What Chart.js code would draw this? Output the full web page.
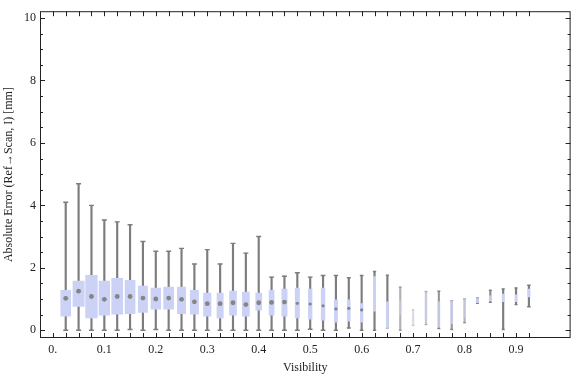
<!DOCTYPE html>
<html>
<head>
<meta charset="utf-8">
<script src="https://cdn.jsdelivr.net/npm/chart.js@4.4.1/dist/chart.umd.min.js"></script>
<style>
  body { margin: 0; background: #fff; }
  #chart { display: block; }
</style>
</head>
<body>
<canvas id="chart" width="576" height="377"></canvas>
<script>
  // box positions (visibility bins)
  const visibility = [0.025, 0.05, 0.075, 0.1, 0.125, 0.15, 0.175, 0.2, 0.225, 0.25, 0.275, 0.3, 0.325,
    0.35, 0.375, 0.4, 0.425, 0.45, 0.475, 0.5, 0.525, 0.55, 0.575, 0.6, 0.625, 0.65, 0.675, 0.7,
    0.725, 0.75, 0.775, 0.8, 0.825, 0.85, 0.875, 0.9, 0.925];

  const whiskerLow = [0, 0, 0, 0, 0, 0.02, 0, 0.02, 0, 0, 0, 0, 0, 0, 0, 0, 0, 0, 0, 0.03, 0, 0, 0.07, 0,
    0, 0.08, 0, 0.15, 0.18, 0.05, 0.02, 0.24, 0.86, 0.89, 0.02, 0.82, 0.75];
  const q1 = [0.45, 0.76, 0.39, 0.48, 0.51, 0.53, 0.57, 0.67, 0.67, 0.53, 0.51, 0.45, 0.39, 0.48, 0.45, 0.64,
    0.48, 0.45, 0.39, 0.35, 0.32, 0.26, 0.29, 0.26, 0.61, 0.08, 0.5, 0.3, 0.3, 0.1, 0.21, 0.4, 0.88, 0.94,
    0.91, 0.91, 1.07];
  const median = [1.02, 1.25, 1.08, 0.99, 1.08, 1.08, 1.03, 1.0, 1.03, 0.99, 0.91, 0.85, 0.85, 0.88, 0.82, 0.88,
    0.89, 0.9, 0.86, 0.84, 0.78, 0.68, 0.7, 0.65];
  const q3 = [1.28, 1.57, 1.76, 1.57, 1.66, 1.6, 1.41, 1.35, 1.38, 1.38, 1.28, 1.19, 1.19, 1.25, 1.22, 1.19,
    1.28, 1.32, 1.35, 1.32, 1.35, 0.97, 0.97, 0.85, 1.72, 0.91, 0.94, 0.5, 1.2, 0.91, 0.94, 1.0, 1.03, 1.1,
    1.16, 1.13, 1.32];
  const whiskerHigh = [4.1, 4.69, 4.0, 3.53, 3.47, 3.38, 2.84, 2.53, 2.53, 2.62, 2.12, 2.58, 2.12, 2.78, 2.47, 3.0,
    1.7, 1.73, 1.84, 1.7, 1.75, 1.75, 1.68, 1.75, 1.88, 1.76, 1.38, 0.65, 1.24, 1.25, 0.94, 1.0, 1.03, 1.28,
    1.32, 1.35, 1.44];

  const xTickLabels = ['0.', '0.1', '0.2', '0.3', '0.4', '0.5', '0.6', '0.7', '0.8', '0.9'];
  const yTickLabels = ['0', '2', '4', '6', '8', '10'];

  // styling per box (pixel widths, opacity)
  const boxWidth = [10, 11.3, 11.7, 10.7, 11, 10, 9.3, 9.7, 10, 8.3, 8.3, 7.5, 6.3, 7, 7, 6, 5, 5.3, 4.3, 3.7,
    3.7, 3.3, 3, 2.7, 2.3, 2, 2, 2, 2, 2, 2, 2, 2, 2, 2, 2, 2.5];
  const boxAlpha = [1, 1, 1, 1, 1, 1, 1, 1, 1, 1, 1, 1, 1, 1, 1, 1, 1, 1, 1, 1, 1, 1, 1, 1, 1, 1, 0.6, 0.25,
    0.45, 0.8, 0.8, 0.6, 0.9, 0.9, 1, 1, 1];

  const textFont = { family: "'Liberation Serif', 'DejaVu Serif', serif", size: 12 };
  const textColor = '#222';

  const boxDatasets = visibility.map((v, i) => ({
    type: 'bar',
    data: [{ x: v, y: [q1[i], q3[i]] }],
    backgroundColor: 'rgba(203, 210, 246, ' + boxAlpha[i] + ')',
    barThickness: boxWidth[i],
    grouped: false,
    order: 1
  }));

  const whiskers = {
    type: 'bar',
    data: visibility.map((v, i) => ({ x: v, y: [whiskerLow[i], whiskerHigh[i]] })),
    backgroundColor: boxAlpha.map(a => 'rgba(125, 125, 125, ' + a + ')'),
    barThickness: 1.5,
    grouped: false,
    order: 3
  };

  const caps = {
    type: 'scatter',
    data: visibility.flatMap((v, i) => [{ x: v, y: whiskerLow[i] }, { x: v, y: whiskerHigh[i] }]),
    pointStyle: 'line',
    pointRadius: visibility.flatMap((v, i) => {
      const r = Math.min(2.5, boxWidth[i] / 2 + 0.5);
      return [r, r];
    }),
    borderColor: boxAlpha.flatMap(a => ['rgba(125, 125, 125, ' + a + ')', 'rgba(125, 125, 125, ' + a + ')']),
    borderWidth: 1.4,
    order: 2
  };

  const medians = {
    type: 'scatter',
    data: median.map((m, i) => ({ x: visibility[i], y: m })),
    pointStyle: 'circle',
    pointRadius: median.map((m, i) => boxWidth[i] >= 5 ? 2.4 : 1.6),
    backgroundColor: '#858585',
    borderWidth: 0,
    order: 0
  };

  const frameTicks = {
    id: 'frameTicks',
    afterDatasetsDraw(chart) {
      const { ctx, chartArea: a, scales: { x, y } } = chart;
      ctx.save();
      ctx.strokeStyle = '#222';
      ctx.lineWidth = 1;
      ctx.strokeRect(a.left + 0.5, a.top + 0.5, a.width - 1, a.height - 1);
      ctx.beginPath();
      [0].concat(visibility).forEach(v => {
        const px = Math.round(x.getPixelForValue(v)) + 0.5;
        ctx.moveTo(px, a.bottom); ctx.lineTo(px, a.bottom - 5);
        ctx.moveTo(px, a.top); ctx.lineTo(px, a.top + 5);
      });
      for (let k = 0; k <= 20; k++) {
        const py = Math.round(y.getPixelForValue(k / 2)) + 0.5;
        const len = k % 4 === 0 ? 5 : 3;
        ctx.moveTo(a.left, py); ctx.lineTo(a.left + len, py);
        ctx.moveTo(a.right, py); ctx.lineTo(a.right - len, py);
      }
      ctx.stroke();
      ctx.restore();
    }
  };

  const chart = new Chart(document.getElementById('chart'), {
    type: 'bar',
    data: {
      datasets: [whiskers, caps, medians].concat(boxDatasets)
    },
    options: {
      responsive: false,
      animation: false,
      layout: { padding: { top: 4, right: 2, left: 0, bottom: 0 } },
      plugins: { legend: { display: false }, tooltip: { enabled: false } },
      scales: {
        x: {
          type: 'linear',
          offset: false,
          min: -0.025,
          max: 1.006,
          grid: { display: false, drawTicks: false },
          border: { display: false },
          ticks: {
            stepSize: 0.1,
            includeBounds: false,
            autoSkip: false,
            maxRotation: 0,
            padding: 5,
            font: textFont,
            color: textColor,
            callback: v => xTickLabels[Math.round(v * 10)] || ''
          },
          title: { display: true, text: 'Visibility', font: textFont, color: textColor, padding: { top: 0, bottom: 2 } },
          afterFit: s => { s.height = 39; }
        },
        y: {
          min: -0.25,
          max: 10.22,
          grid: { display: false, drawTicks: false },
          border: { display: false },
          ticks: {
            stepSize: 2,
            includeBounds: false,
            padding: 4,
            font: textFont,
            color: textColor,
            callback: v => yTickLabels[Math.round(v / 2)] || ''
          },
          title: {
            display: true,
            text: 'Absolute Error (Ref\u2192Scan, I) [mm]',
            font: textFont,
            color: textColor,
            padding: { top: 2, bottom: 0 }
          },
          afterFit: s => { s.width = 40; }
        }
      }
    },
    plugins: [frameTicks]
  });
</script>
</body>
</html>
